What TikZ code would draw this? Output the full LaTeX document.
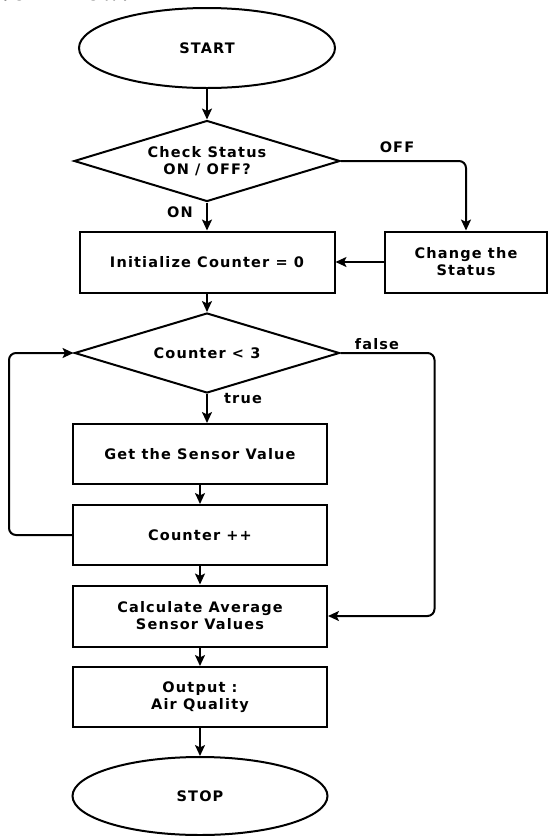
\documentclass[tikz,border=0pt]{standalone}
\usepackage{fontspec}
\setmainfont{DejaVu Sans}[LetterSpace=8]
\newfontfamily\headfont{Liberation Serif}
\usetikzlibrary{shapes.geometric,arrows.meta,positioning}

\begin{document}
\begin{tikzpicture}[x=1pt, y=1pt, line width=2pt,
  font=\bfseries\fontsize{14.5}{17}\selectfont,
  box/.style={draw, rectangle, minimum width=254pt, minimum height=60pt, align=center, inner sep=0pt},
  term/.style={draw, ellipse, minimum width=256pt, minimum height=80pt, inner sep=0pt},
  cond/.style={draw, diamond, aspect=3.3, minimum width=266pt, minimum height=81pt, align=center, inner sep=0pt},
  flow/.style={-{Stealth[length=11pt, width=10pt, inset=2.5pt]}},
  lbl/.style={inner sep=0pt}]
  \useasboundingbox (0,-836) rectangle (548,0);

  % Heading (cut off at the top)
  \node[anchor=base west, inner sep=0pt, font=\headfont\bfseries\fontsize{28}{30}\selectfont] (head) at (-15,-0.5) {Work Flow:};

  % Upper part
  \node[term] (start) at (207,-48) {START};
  \node[cond] (check) at (207,-161) {Check Status\\ON / OFF?};
  \node[box, minimum width=255pt, minimum height=61pt] (init) at (207,-262) {Initialize Counter = 0};
  \node[box, minimum width=162pt, minimum height=61pt] (change) at (466,-262) {Change the\\Status};

  % Loop
  \node[cond, minimum width=265pt, minimum height=80pt] (cnt) at (207,-353) {Counter < 3};
  \node[box] (sensor) at (200,-454) {Get the Sensor Value};
  \node[box] (incr) at (200,-535) {Counter ++};

  % Lower part
  \node[box, minimum height=61pt] (avg) at (200,-616) {Calculate Average\\Sensor Values};
  \node[box] (output) at (200,-697) {Output :\\Air Quality};
  \node[term, minimum width=255pt, minimum height=78pt] (stop) at (200,-796) {STOP};

  % Labels
  \node[lbl] (on) at (180,-212) {ON};
  \node[lbl] (off) at (397,-147) {OFF};
  \node[lbl] (false) at (377,-344) {false};
  \node[lbl] (true) at (243,-399) {true};

  % Connectors
  \draw[flow] (start.south) -- (check.north);
  \draw[flow] (check.south) -- (init.north);
  \draw[flow, rounded corners=7pt] (check.east) -| (change.north);
  \draw[flow] (change.west) -- (init.east);
  \draw[flow] (init.south) -- (cnt.north);
  \draw[flow] (cnt.south) -- (cnt.south |- sensor.north);
  \draw[flow] (sensor.south) -- (incr.north);
  \draw[flow, rounded corners=7pt] (incr.west) -- ++(-63,0) |- (cnt.west);
  \draw[flow, rounded corners=7pt] (cnt.east) -- ++(94,0) |- (avg.east);
  \draw[flow] (incr.south) -- (avg.north);
  \draw[flow] (avg.south) -- (output.north);
  \draw[flow] (output.south) -- (stop.north);
\end{tikzpicture}
\end{document}
